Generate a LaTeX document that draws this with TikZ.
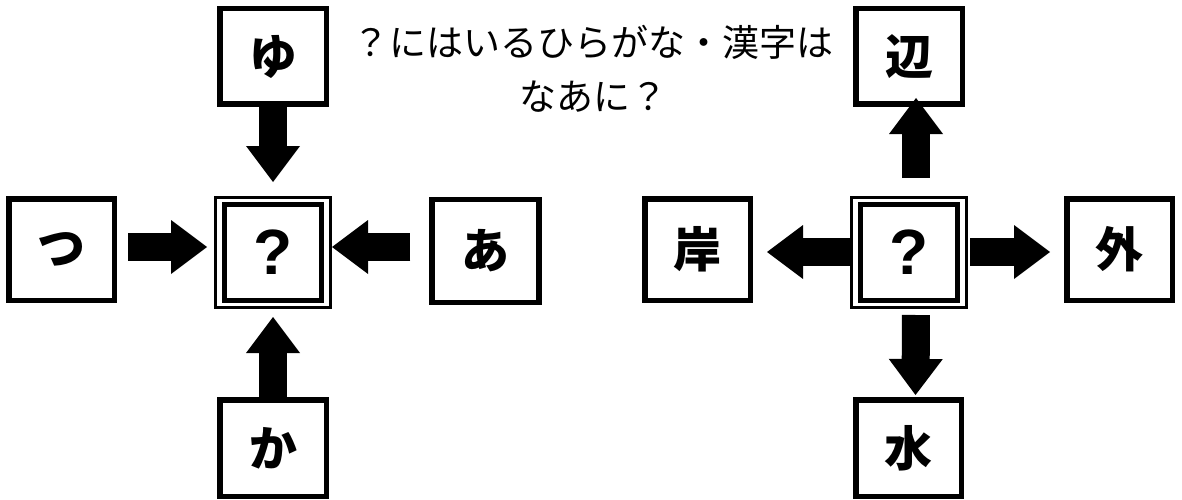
\documentclass[tikz,border=0pt]{standalone}
\usepackage{fontspec}
\usetikzlibrary{arrows.meta,calc}
\newfontfamily\jp{Noto Sans CJK JP}
\newfontfamily\lat{Liberation Sans}
\tikzset{
  box/.style={draw, line width=5.5pt, inner sep=0pt, font=\jp\bfseries\fontsize{48}{48}\selectfont},
  qbox/.style={draw, line width=3pt, inner sep=0pt, minimum width=115pt, minimum height=110pt, font=\lat\bfseries\fontsize{64}{64}\selectfont},
  innerframe/.style={line width=5pt},
  blk/.style={line width=28pt, -{Triangle[width=54pt,length=36pt,line width=0pt]}},
  titletext/.style={font=\jp\fontsize{37}{54}\selectfont, align=center, inner sep=0pt}
}
\begin{document}
\begin{tikzpicture}[x=1pt,y=-1pt]
\fill[white] (0,0) rectangle (1182,500);
\useasboundingbox (0,0) rectangle (1182,500);

% title
\node[titletext] (title) at (593,69) {？にはいるひらがな・漢字は\\なあに？};

% left group
\node[box, minimum width=106.5pt, minimum height=95.5pt] (yu) at (273,56.5) {ゆ};
\node[box, minimum width=105.5pt, minimum height=101.5pt] (tsu) at (61.5,249.5) {つ};
\node[box, minimum width=107pt, minimum height=103pt] (a) at (485.5,251) {あ};
\node[box, minimum width=106.5pt, minimum height=96.5pt] (ka) at (273,448) {か};
\node[qbox] (cL) at (273,252.5) {?};
\draw[innerframe] ($(cL.center)+(-48.75,-48)$) rectangle ($(cL.center)+(48.75,48)$);
\coordinate (yL) at (0,247);

\draw[blk, shorten >=14pt] (yu.south) -- (cL.north);
\draw[blk, shorten <=11pt, shorten >=7pt] (tsu.east |- yL) -- (cL.west |- yL);
\draw[blk, shorten <=19pt] (a.west |- yL) -- (cL.east |- yL);
\draw[blk, shorten >=8pt] (ka.north) -- (cL.south);

% right group
\node[box, minimum width=106.5pt, minimum height=95.5pt] (hen) at (909,56.5) {辺};
\node[box, minimum width=105.5pt, minimum height=101.5pt] (kishi) at (697.5,249.5) {岸};
\node[box, minimum width=105.5pt, minimum height=101.5pt] (soto) at (1119.5,249.5) {外};
\node[box, minimum width=105.5pt, minimum height=96.5pt] (mizu) at (908.5,448) {水};
\node[qbox] (cR) at (909,252.5) {?};
\draw[innerframe] ($(cR.center)+(-48.75,-48)$) rectangle ($(cR.center)+(48.75,48)$);
\coordinate (yR) at (0,252);

\draw[blk, shorten <=18pt, shorten >=-9pt] ([xshift=7pt]cR.north) -- ([xshift=7pt]hen.south);
\draw[blk, shorten >=14pt] (cR.west |- yR) -- (kishi.east |- yR);
\draw[blk, shorten <=2pt, shorten >=14pt] (cR.east |- yR) -- (soto.west |- yR);
\draw[blk, shorten <=6pt, shorten >=2pt] ([xshift=7pt]cR.south) -- ([xshift=7pt]mizu.north);
\end{tikzpicture}
\end{document}
